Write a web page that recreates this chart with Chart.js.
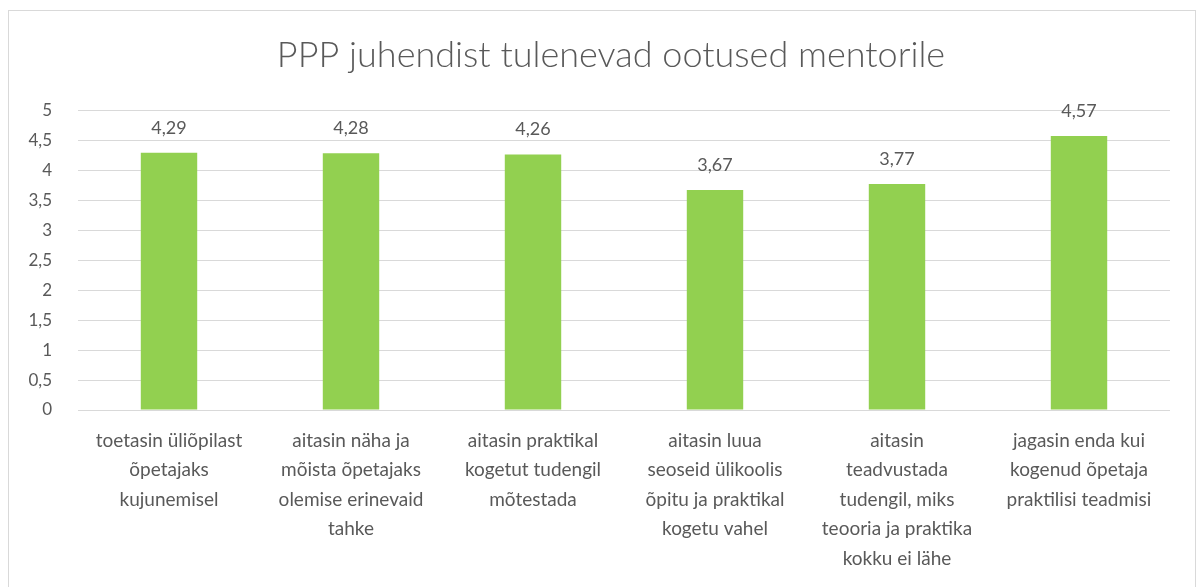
<!DOCTYPE html>
<html>
<head>
<meta charset="utf-8">
<script src="https://cdn.jsdelivr.net/npm/chart.js@4"></script>
<style>
  html,body{margin:0;padding:0;background:#fff;}
  #wrap{position:relative;width:1201px;height:587px;}
  #frame{position:absolute;left:8px;top:10px;width:1186px;height:590px;border:1px solid #d9d9d9;}
  canvas{position:absolute;left:0;top:0;}
</style>
</head>
<body>
<div id="wrap">
  <div id="frame"></div>
  <canvas id="c" width="1201" height="587"></canvas>
</div>
<script>
const TITLE = 'PPP juhendist tulenevad ootused mentorile';
const CATEGORIES = [
  ['toetasin üliõpilast','õpetajaks','kujunemisel'],
  ['aitasin näha ja','mõista õpetajaks','olemise erinevaid','tahke'],
  ['aitasin praktikal','kogetut tudengil','mõtestada'],
  ['aitasin luua','seoseid ülikoolis','õpitu ja praktikal','kogetu vahel'],
  ['aitasin','teadvustada','tudengil, miks','teooria ja praktika','kokku ei lähe'],
  ['jagasin enda kui','kogenud õpetaja','praktilisi teadmisi']
];
const VALUES = [4.29, 4.28, 4.26, 3.67, 3.77, 4.57];
const Y_MIN = 0, Y_MAX = 5, Y_STEP = 0.5;

const GREY = '#595959';
const FONT = 'Lato, "Open Sans", sans-serif';
const comma = v => String(v).replace('.', ',');

// value above each bar, with a decimal comma
const valueLabels = {
  id:'valueLabels',
  afterLayout(chart){
    // title in the reference is centred on the whole frame, not the plot
    const t = chart.titleBlock;
    if(t){ t.left += 22; t.right += 22; }
  },
  afterDatasetsDraw(chart){
    const ctx = chart.ctx, meta = chart.getDatasetMeta(0);
    ctx.save();
    ctx.font = '18px ' + FONT;
    ctx.fillStyle = GREY;
    ctx.textAlign = 'center';
    ctx.textBaseline = 'bottom';
    meta.data.forEach((bar,i)=>{
      ctx.fillText(comma(VALUES[i].toFixed(2)), bar.x, bar.y - 16);
    });
    ctx.restore();
  }
};

new Chart(document.getElementById('c'), {
  type:'bar',
  data:{labels:CATEGORIES, datasets:[{data:VALUES, backgroundColor:'#92d050',
    barPercentage:0.62, categoryPercentage:0.5}]},
  options:{
    responsive:false, animation:false,
    layout:{padding:{left:8, right:31, top:0, bottom:0}},
    plugins:{
      legend:{display:false}, tooltip:{enabled:false},
      title:{display:true, text:TITLE, color:GREY,
        font:{family:FONT, size:36, weight:300}, padding:{top:34, bottom:33}}
    },
    scales:{
      x:{grid:{display:false}, border:{display:false},
        ticks:{color:GREY, font:{family:FONT, size:19, lineHeight:1.55}, padding:8, maxRotation:0, autoSkip:false},
        afterFit(s){ s.height = 177; }},
      y:{min:Y_MIN, max:Y_MAX,
        grid:{color:'#d9d9d9', drawTicks:false, lineWidth:1},
        border:{display:false},
        ticks:{stepSize:Y_STEP, color:GREY, font:{family:FONT, size:17}, padding:26,
          callback:v=>comma(v)},
        afterFit(s){ s.width = 70; }}
    }
  },
  plugins:[valueLabels]
});
</script>
</body>
</html>
